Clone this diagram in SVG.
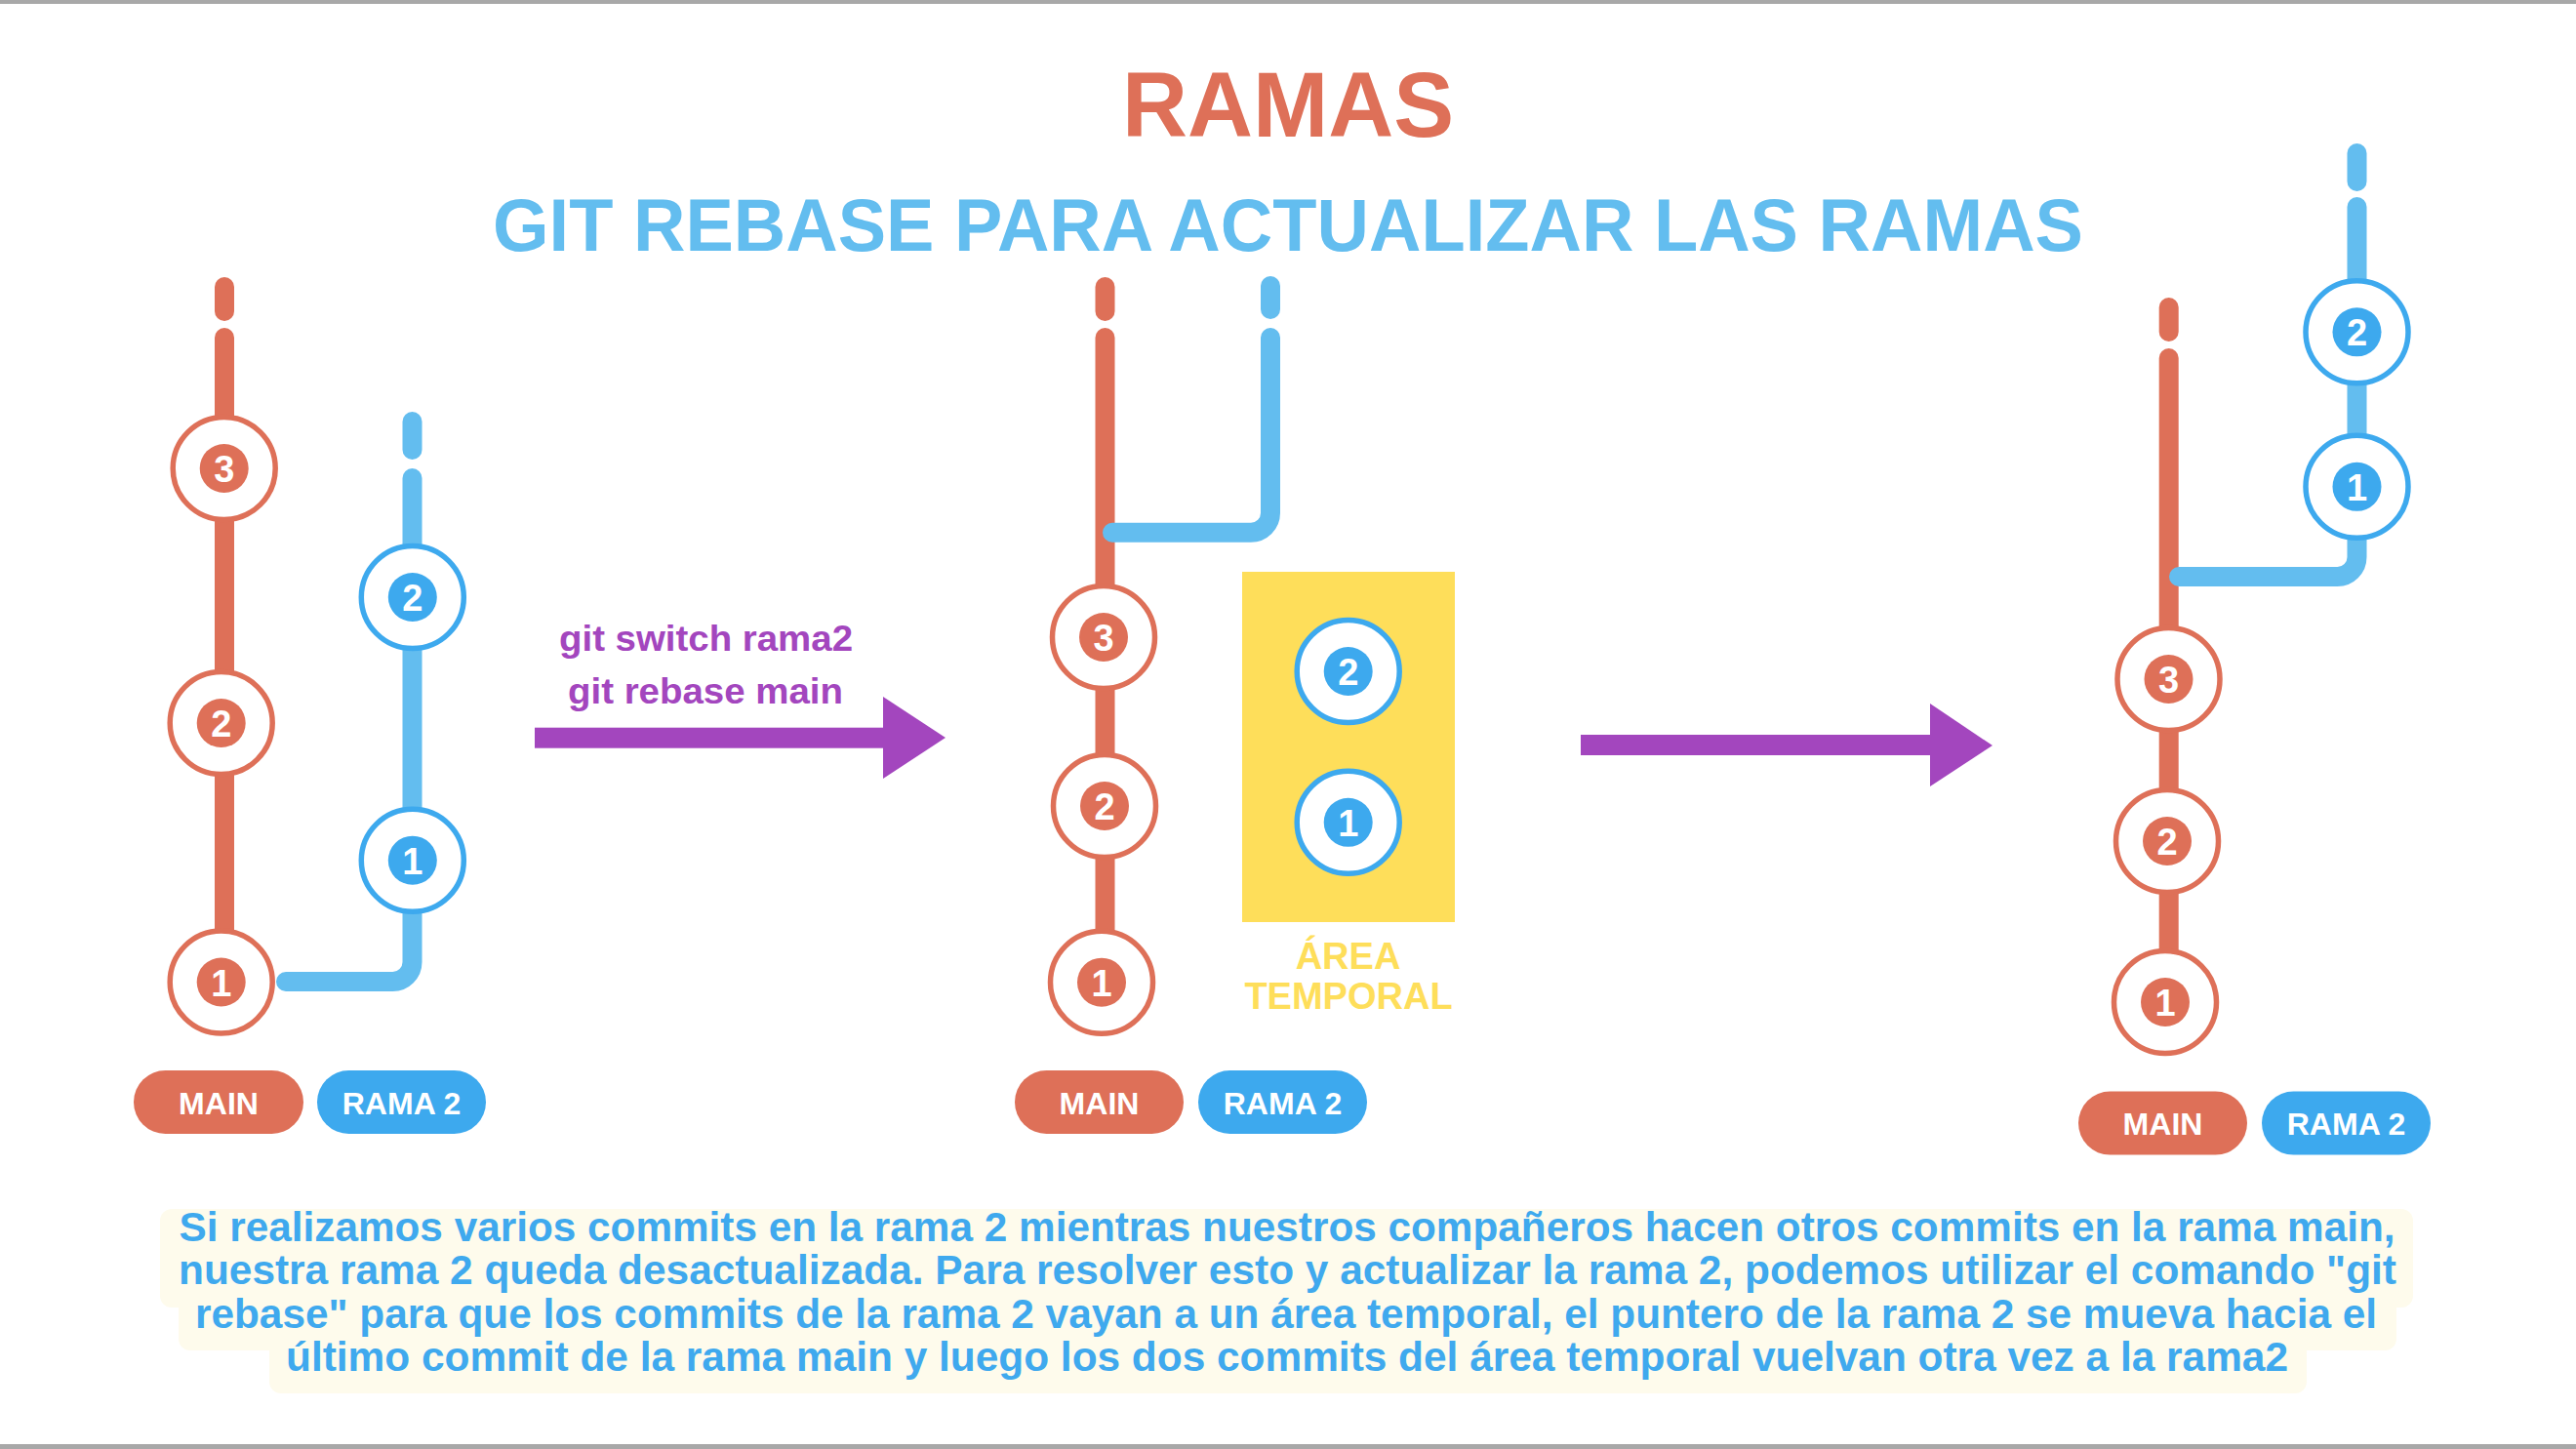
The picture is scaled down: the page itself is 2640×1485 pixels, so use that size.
<svg xmlns="http://www.w3.org/2000/svg" width="2640" height="1485" viewBox="0 0 2640 1485">
<style>
.rl{stroke:#DE7058;stroke-width:20;stroke-linecap:round;fill:none}
.bl{stroke:#63BDEF;stroke-width:20;stroke-linecap:round;stroke-linejoin:round;fill:none}
.ringr{fill:#fff;stroke:#DE7058;stroke-width:5.5}
.ringb{fill:#fff;stroke:#3DA9EE;stroke-width:5.5}
.dotr{fill:#DE7058}
.dotb{fill:#3DA9EE}
.f{font-family:"Liberation Sans",Arial,Helvetica,sans-serif;font-weight:bold;text-anchor:middle}
.num{font-size:38px;fill:#fff}
.pill{font-size:32px;fill:#fff}
.pr{fill:#DE7058}
.pb{fill:#3DA9EE}
.arrow{fill:#A346BE}
.cmd{font-size:37px;fill:#A346BE}
.body{font-size:42px;fill:#3FA9EE}
.band{fill:#FEFBEC}
</style>
<rect x="0" y="0" width="2640" height="1485" fill="#fff"/>
<rect x="0" y="0" width="2640" height="4" fill="#A8A8A8"/>
<rect x="0" y="1480" width="2640" height="5" fill="#A8A8A8"/>

<g id="title">
<text class="f" x="1320" y="140" font-size="95" fill="#DE7058" textLength="340" lengthAdjust="spacingAndGlyphs">RAMAS</text>
<text class="f" x="1320" y="257" font-size="76" fill="#63BDEF" textLength="1630" lengthAdjust="spacingAndGlyphs">GIT REBASE PARA ACTUALIZAR LAS RAMAS</text>
</g>

<g id="connectors">
<!-- left diagram -->
<line class="rl" x1="230" y1="294" x2="230" y2="319"/>
<line class="rl" x1="230" y1="346" x2="230" y2="1006"/>
<line class="bl" x1="422.5" y1="432" x2="422.5" y2="461"/>
<path class="bl" d="M422.5 490 V986 A20 20 0 0 1 402.5 1006 H293"/>
<!-- middle diagram -->
<line class="rl" x1="1132.5" y1="294" x2="1132.5" y2="319"/>
<line class="rl" x1="1132.5" y1="346" x2="1132.5" y2="1006"/>
<line class="bl" x1="1302" y1="293" x2="1302" y2="317"/>
<path class="bl" d="M1302 346 V525.7 A20 20 0 0 1 1282 545.7 H1140"/>
<!-- right diagram -->
<line class="rl" x1="2222.7" y1="315" x2="2222.7" y2="340"/>
<line class="rl" x1="2222.7" y1="367" x2="2222.7" y2="1027"/>
<line class="bl" x1="2415.5" y1="157" x2="2415.5" y2="186"/>
<path class="bl" d="M2415.5 212 V571 A20 20 0 0 1 2395.5 591 H2233"/>
<!-- step arrows -->
<g id="arrow1">
<rect class="arrow" x="548" y="745.7" width="358" height="21"/>
<polygon class="arrow" points="905,714 969,756 905,798"/>
</g>
<g id="arrow2">
<rect class="arrow" x="1620" y="753" width="359" height="21"/>
<polygon class="arrow" points="1978,721 2042,764 1978,806"/>
</g>
</g>

<g id="cmd-label">
<text class="f cmd" x="723.5" y="667" textLength="301" lengthAdjust="spacingAndGlyphs">git switch rama2</text>
<text class="f cmd" x="723" y="721" textLength="282" lengthAdjust="spacingAndGlyphs">git rebase main</text>
</g>

<!-- left diagram nodes -->
<g id="L-main3"><circle class="ringr" cx="229.7" cy="480" r="52.5"/><circle class="dotr" cx="229.7" cy="480" r="25"/><text class="f num" x="229.7" y="494">3</text></g>
<g id="L-main2"><circle class="ringr" cx="226.7" cy="741" r="52.5"/><circle class="dotr" cx="226.7" cy="741" r="25"/><text class="f num" x="226.7" y="755">2</text></g>
<g id="L-main1"><circle class="ringr" cx="226.7" cy="1006.5" r="52.5"/><circle class="dotr" cx="226.7" cy="1006.5" r="25"/><text class="f num" x="226.7" y="1020.5">1</text></g>
<g id="L-rama2"><circle class="ringb" cx="422.8" cy="612" r="52.5"/><circle class="dotb" cx="422.8" cy="612" r="25"/><text class="f num" x="422.8" y="626">2</text></g>
<g id="L-rama1"><circle class="ringb" cx="422.8" cy="881.7" r="52.5"/><circle class="dotb" cx="422.8" cy="881.7" r="25"/><text class="f num" x="422.8" y="895.7">1</text></g>
<g id="L-label-main"><rect class="pr" x="137" y="1097" width="174" height="65" rx="32.5"/><text class="f pill" x="224" y="1141.5">MAIN</text></g>
<g id="L-label-rama"><rect class="pb" x="325" y="1097" width="173" height="65" rx="32.5"/><text class="f pill" x="411.5" y="1141.5">RAMA 2</text></g>

<!-- middle diagram nodes -->
<g id="M-main3"><circle class="ringr" cx="1131" cy="653" r="52.5"/><circle class="dotr" cx="1131" cy="653" r="25"/><text class="f num" x="1131" y="667">3</text></g>
<g id="M-main2"><circle class="ringr" cx="1132" cy="826" r="52.5"/><circle class="dotr" cx="1132" cy="826" r="25"/><text class="f num" x="1132" y="840">2</text></g>
<g id="M-main1"><circle class="ringr" cx="1129" cy="1006.7" r="52.5"/><circle class="dotr" cx="1129" cy="1006.7" r="25"/><text class="f num" x="1129" y="1020.7">1</text></g>
<g id="M-temp">
<rect x="1273" y="586" width="218" height="359" fill="#FEDE5A"/>
<text class="f" x="1381.5" y="993" font-size="38" fill="#FEDE5A">ÁREA</text>
<text class="f" x="1382" y="1034" font-size="38" fill="#FEDE5A">TEMPORAL</text>
</g>
<g id="M-rama2"><circle class="ringb" cx="1381.7" cy="688" r="52.5"/><circle class="dotb" cx="1381.7" cy="688" r="25"/><text class="f num" x="1381.7" y="702">2</text></g>
<g id="M-rama1"><circle class="ringb" cx="1381.7" cy="842.8" r="52.5"/><circle class="dotb" cx="1381.7" cy="842.8" r="25"/><text class="f num" x="1381.7" y="856.8">1</text></g>
<g id="M-label-main"><rect class="pr" x="1040" y="1097" width="173" height="65" rx="32.5"/><text class="f pill" x="1126.5" y="1141.5">MAIN</text></g>
<g id="M-label-rama"><rect class="pb" x="1228" y="1097" width="173" height="65" rx="32.5"/><text class="f pill" x="1314.5" y="1141.5">RAMA 2</text></g>

<!-- right diagram nodes -->
<g id="R-main3"><circle class="ringr" cx="2222.5" cy="696" r="52.5"/><circle class="dotr" cx="2222.5" cy="696" r="25"/><text class="f num" x="2222.5" y="710">3</text></g>
<g id="R-main2"><circle class="ringr" cx="2221" cy="862" r="52.5"/><circle class="dotr" cx="2221" cy="862" r="25"/><text class="f num" x="2221" y="876">2</text></g>
<g id="R-main1"><circle class="ringr" cx="2219" cy="1027" r="52.5"/><circle class="dotr" cx="2219" cy="1027" r="25"/><text class="f num" x="2219" y="1041">1</text></g>
<g id="R-rama2"><circle class="ringb" cx="2415.5" cy="340.3" r="52.5"/><circle class="dotb" cx="2415.5" cy="340.3" r="25"/><text class="f num" x="2415.5" y="354.3">2</text></g>
<g id="R-rama1"><circle class="ringb" cx="2415.5" cy="498.8" r="52.5"/><circle class="dotb" cx="2415.5" cy="498.8" r="25"/><text class="f num" x="2415.5" y="512.8">1</text></g>
<g id="R-label-main"><rect class="pr" x="2130" y="1118.6" width="173" height="65" rx="32.5"/><text class="f pill" x="2216.5" y="1163">MAIN</text></g>
<g id="R-label-rama"><rect class="pb" x="2318" y="1118.6" width="173" height="65" rx="32.5"/><text class="f pill" x="2404.5" y="1163">RAMA 2</text></g>

<g id="description">
<rect class="band" x="164" y="1239" width="2309" height="101" rx="12"/>
<rect class="band" x="183" y="1330" width="2273" height="54" rx="12"/>
<rect class="band" x="276" y="1374" width="2088" height="54" rx="12"/>
<text class="f body" x="1319" y="1272" textLength="2271" lengthAdjust="spacingAndGlyphs">Si realizamos varios commits en la rama 2 mientras nuestros compañeros hacen otros commits en la rama main,</text>
<text class="f body" x="1319.5" y="1316" textLength="2273" lengthAdjust="spacingAndGlyphs">nuestra rama 2 queda desactualizada. Para resolver esto y actualizar la rama 2, podemos utilizar el comando "git</text>
<text class="f body" x="1318" y="1361" textLength="2236" lengthAdjust="spacingAndGlyphs">rebase" para que los commits de la rama 2 vayan a un área temporal, el puntero de la rama 2 se mueva hacia el</text>
<text class="f body" x="1319" y="1405" textLength="2052" lengthAdjust="spacingAndGlyphs">último commit de la rama main y luego los dos commits del área temporal vuelvan otra vez a la rama2</text>
</g>
</svg>
